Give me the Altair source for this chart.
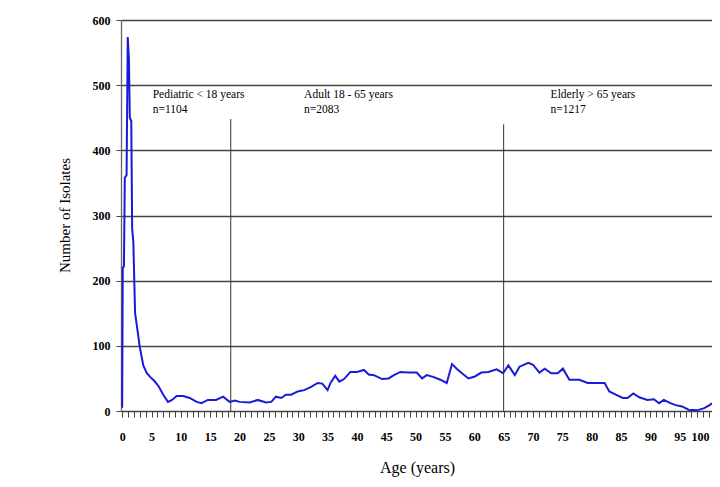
import altair as alt
import pandas as pd

ages = [0.0, 0.1, 0.3, 0.45, 0.75, 0.95, 1.15, 1.3, 1.55, 1.7, 1.9, 2.2, 2.6, 3.0, 3.6, 4.2, 4.8,
        5.5, 6.2, 7.0, 7.8, 8.5, 9.3, 10.4, 11.5, 12.7, 13.5, 14.6, 16.0, 17.2, 18.3, 19.2, 20.0,
        21.7, 23.1, 24.5, 25.4, 26.2, 27.1, 27.9, 28.8, 29.9, 31.0, 32.2, 33.3, 34.1, 35.0, 35.5,
        36.3, 37.0, 37.8, 38.9, 40.0, 41.2, 42.0, 42.9, 44.3, 45.4, 46.3, 47.4, 48.8, 50.2, 51.1,
        51.9, 53.1, 54.2, 55.3, 56.2, 57.0, 57.9, 59.0, 60.1, 61.2, 62.4, 63.8, 64.9, 65.8, 66.9,
        67.7, 69.2, 70.0, 71.1, 72.0, 73.1, 74.2, 75.1, 76.2, 77.9, 79.3, 81.0, 82.2, 83.0, 84.1,
        85.3, 86.1, 87.1, 88.1, 89.5, 90.6, 91.5, 92.3, 93.4, 94.3, 95.4, 96.5, 97.9, 99.1, 100.1,
        100.5]
counts = [5, 220, 222, 358, 362, 574, 540, 450, 445, 280, 260, 150, 125, 98, 70, 58, 52,
          46, 38, 25, 14, 17, 23, 23, 20, 14, 12, 17, 17, 22, 14, 16, 14,
          13, 17, 13, 14, 22, 20, 25, 25, 30, 32, 37, 43, 42, 32, 43,
          54, 45, 49, 60, 60, 63, 56, 55, 49, 50, 55, 60, 59, 59, 50,
          55, 52, 48, 43, 72, 65, 58, 50, 53, 59, 60, 64, 58, 70, 55,
          68, 74, 71, 59, 65, 58, 58, 65, 48, 48, 43, 43, 43, 30, 25,
          20, 20, 27, 21, 17, 18, 12, 17, 12, 9, 7, 2, 1, 4, 9,
          12]

divider_ages = [18.5, 65]
divider_tops = [448, 440]

label_ages = [5.2, 31.0, 73.0]
label_line1 = ["Pediatric < 18 years", "Adult 18 - 65 years", "Elderly > 65 years"]
label_line2 = ["n=1104", "n=2083", "n=1217"]

x_tick_values = list(range(0, 101))
y_tick_values = [0, 100, 200, 300, 400, 500, 600]

df = pd.DataFrame({"age": ages, "count": counts})
div = pd.DataFrame({"age": divider_ages, "top": divider_tops, "bottom": [0, 0]})
lab = pd.DataFrame({"age": label_ages, "l1": label_line1, "l2": label_line2,
                    "y1": [485] * 3, "y2": [462] * 3})

W, H = 591, 391
xscale = alt.Scale(domain=[-0.2, 100.5], nice=False, zero=False)
yscale = alt.Scale(domain=[0, 600], nice=False)

FONT = "Liberation Serif"

xaxis = alt.Axis(values=x_tick_values,
                 labelExpr="datum.value % 5 == 0 ? datum.label : ''",
                 title="Age (years)", grid=False, domain=False,
                 ticks=True, tickSize=6, tickColor="#444", tickWidth=1, labelPadding=14,
                 labelFont=FONT, labelFontSize=12, labelFontWeight="bold",
                 labelColor="#000", labelOverlap=False, labelFlush=False,
                 labelAlign={"condition": {"test": "datum.value >= 100", "value": "right"},
                             "value": "center"},
                 titleFont=FONT, titleFontSize=16, titleFontWeight="normal",
                 titleColor="#000", titleX=296, titleY=56,
                 titleBaseline="middle", titleAlign="center")
yaxis = alt.Axis(values=y_tick_values, title="Number of Isolates",
                 grid=True, gridColor="#444", gridWidth=1.3,
                 domain=True, domainColor="#666", domainWidth=1.3,
                 tickSize=5, tickColor="#444", labelPadding=6,
                 labelFont=FONT, labelFontSize=12, labelFontWeight="bold",
                 labelColor="#000", labelOverlap=False,
                 titleFont=FONT, titleFontSize=15, titleFontWeight="normal",
                 titleColor="#000", titleX=-57, titleY=195, titleAngle=-90,
                 titleAlign="center", titleBaseline="middle")

X = lambda f: alt.X(f, scale=xscale, axis=xaxis)
Y = lambda f: alt.Y(f, scale=yscale, axis=yaxis)

line = alt.Chart(df).mark_line(color="#1a1ad8", strokeWidth=2).encode(
    x=X("age:Q"), y=Y("count:Q"),
)

rules = alt.Chart(div).mark_rule(color="#333", strokeWidth=1).encode(
    x=X("age:Q"), y=Y("bottom:Q"), y2="top:Q"
)

t1 = alt.Chart(lab).mark_text(align="left", baseline="middle", font=FONT, fontSize=11.5,
                              color="#000").encode(
    x=X("age:Q"), y=Y("y1:Q"), text="l1:N"
)
t2 = alt.Chart(lab).mark_text(align="left", baseline="middle", font=FONT, fontSize=11.5,
                              color="#000").encode(
    x=X("age:Q"), y=Y("y2:Q"), text="l2:N"
)

chart = alt.layer(line, rules, t1, t2).properties(
    width=W, height=H,
    autosize=alt.AutoSizeParams(type="none"),
    padding={"left": 113, "top": 12, "right": 0, "bottom": 66},
).configure_view(stroke=None).configure(background="white")

chart.save("out.html", embed_options={"renderer": "svg", "actions": False})
